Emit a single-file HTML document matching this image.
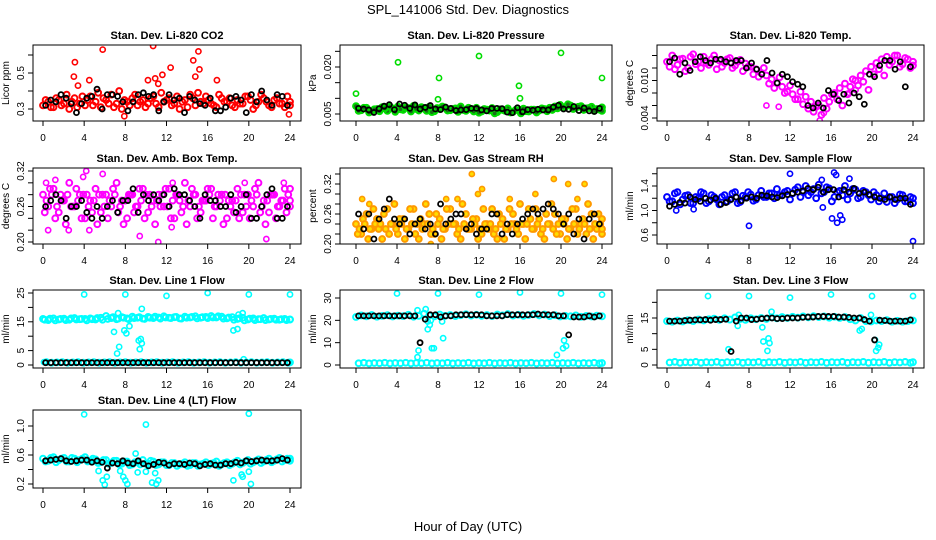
<!DOCTYPE html>
<html><head><meta charset="utf-8"><style>
html,body{margin:0;padding:0;background:#fff;}
svg{display:block;font-family:"Liberation Sans",sans-serif;}
</style></head><body>
<svg id="chart" width="936" height="540" viewBox="0 0 936 540">
<text x="468" y="14" text-anchor="middle" font-size="13">SPL_141006  Std. Dev. Diagnostics</text>
<text x="468" y="531" text-anchor="middle" font-size="13">Hour of Day (UTC)</text>
</svg>
<script>
// ---- data (hours 0-24, values in panel units) ----
const hourTicks = [0,4,8,12,16,20,24];
const co2A = [0.32,0.34,0.31,0.35,0.33,0.30,0.36,0.33,0.32,0.37,0.34,0.31,0.35,0.38,0.33,0.30,0.34,0.36,0.32,0.35,0.33,0.37,0.31,0.34,0.36,0.33,0.30,0.35,0.38,0.32,0.34,0.37,0.33,0.31,0.36,0.34,0.32,0.35,0.33,0.37,0.30,0.34,0.36,0.32,0.35,0.33,0.31,0.34];
const co2B = [0.35,0.31,0.36,0.32,0.38,0.34,0.31,0.37,0.35,0.32,0.39,0.36,0.33,0.31,0.40,0.35,0.32,0.38,0.34,0.31,0.36,0.33,0.39,0.35,0.32,0.37,0.34,0.31,0.36,0.39,0.33,0.35,0.32,0.38,0.34,0.36,0.31,0.33,0.37,0.35,0.32,0.38,0.34,0.31,0.36,0.33,0.37,0.32];
const co2Out = [[3,0.48],[3.1,0.56],[5.8,0.63],[10.7,0.65],[15.1,0.62],[14.6,0.57],[12.4,0.53],[15.2,0.52],[14.8,0.48],[11.6,0.49],[16.9,0.46],[4.5,0.46],[10.2,0.46],[10.9,0.47],[7.9,0.26],[23.9,0.27],[11.2,0.44],[3.4,0.43]];
const co2K = [0.32,0.35,0.34,0.38,0.36,0.33,0.28,0.33,0.36,0.37,0.41,0.30,0.38,0.38,0.37,0.34,0.29,0.34,0.38,0.39,0.37,0.38,0.29,0.34,0.38,0.35,0.36,0.28,0.37,0.35,0.33,0.32,0.36,0.29,0.29,0.31,0.36,0.37,0.35,0.28,0.38,0.34,0.40,0.35,0.32,0.38,0.37,0.32];

const presA = [0.0075,0.0062,0.0070,0.0058,0.0066,0.0072,0.0060,0.0068,0.0074,0.0063,0.0069,0.0076,0.0061,0.0067,0.0073,0.0059,0.0066,0.0071,0.0062,0.0068,0.0074,0.0060,0.0065,0.0070,0.0058,0.0064,0.0069,0.0056,0.0063,0.0068,0.0057,0.0062,0.0067,0.0058,0.0064,0.0061,0.0066,0.0070,0.0074,0.0079,0.0072,0.0077,0.0070,0.0075,0.0068,0.0073,0.0066,0.0071];
const presB = [0.0060,0.0070,0.0055,0.0065,0.0059,0.0068,0.0073,0.0057,0.0065,0.0071,0.0058,0.0066,0.0072,0.0060,0.0056,0.0069,0.0074,0.0061,0.0066,0.0057,0.0063,0.0070,0.0058,0.0054,0.0066,0.0061,0.0052,0.0065,0.0060,0.0055,0.0063,0.0052,0.0059,0.0064,0.0055,0.0068,0.0059,0.0063,0.0068,0.0072,0.0081,0.0066,0.0073,0.0063,0.0069,0.0060,0.0064,0.0060];
const presOut = [[0,0.0115],[4.1,0.0215],[8.1,0.0165],[8,0.0097],[12,0.0235],[15.9,0.0140],[16,0.0100],[20,0.0245],[24,0.0165]];
const presK = [0.0068,0.0066,0.0063,0.0055,0.0067,0.0075,0.0080,0.0064,0.0082,0.0078,0.0068,0.0079,0.0066,0.0071,0.0077,0.0066,0.0064,0.0072,0.0068,0.0061,0.0063,0.0064,0.0068,0.0068,0.0063,0.0060,0.0068,0.0068,0.0067,0.0056,0.0054,0.0070,0.0057,0.0064,0.0062,0.0065,0.0063,0.0063,0.0072,0.0078,0.0066,0.0065,0.0074,0.0061,0.0069,0.0060,0.0058,0.0068];

const tempA = [0.0130,0.0140,0.0125,0.0135,0.0120,0.0142,0.0130,0.0138,0.0125,0.0140,0.0132,0.0128,0.0136,0.0124,0.0133,0.0127,0.0122,0.0118,0.0112,0.0108,0.0102,0.0096,0.0090,0.0082,0.0078,0.0070,0.0062,0.0055,0.0050,0.0060,0.0072,0.0066,0.0080,0.0088,0.0095,0.0090,0.0100,0.0108,0.0115,0.0122,0.0128,0.0134,0.0138,0.0130,0.0140,0.0126,0.0134,0.0130];
const tempB = [0.0122,0.0118,0.0134,0.0115,0.0138,0.0126,0.0120,0.0128,0.0134,0.0118,0.0122,0.0134,0.0120,0.0130,0.0115,0.0122,0.0110,0.0106,0.0120,0.0095,0.0088,0.0105,0.0080,0.0092,0.0070,0.0082,0.0074,0.0066,0.0058,0.0045,0.0055,0.0078,0.0070,0.0060,0.0078,0.0102,0.0092,0.0098,0.0085,0.0110,0.0118,0.0108,0.0125,0.0140,0.0122,0.0136,0.0120,0.0124];
const tempOut = [[9.7,0.0060],[10.9,0.0058],[14.9,0.0036],[17.8,0.0080],[18.4,0.0085],[15.3,0.0048]];
const tempK = [0.0130,0.0136,0.0110,0.0128,0.0116,0.0130,0.0138,0.0132,0.0128,0.0134,0.0134,0.0130,0.0128,0.0132,0.0132,0.0120,0.0128,0.0118,0.0110,0.0132,0.0112,0.0096,0.0110,0.0106,0.0098,0.0094,0.0090,0.0060,0.0056,0.0064,0.0056,0.0084,0.0078,0.0068,0.0078,0.0064,0.0080,0.0074,0.0062,0.0110,0.0106,0.0124,0.0132,0.0132,0.0118,0.0130,0.0090,0.0122];

const boxA = [0.28,0.26,0.29,0.25,0.27,0.30,0.26,0.28,0.24,0.27,0.29,0.25,0.28,0.26,0.30,0.27,0.24,0.28,0.26,0.29,0.25,0.27,0.28,0.26,0.29,0.24,0.27,0.30,0.26,0.28,0.25,0.27,0.29,0.26,0.28,0.24,0.27,0.29,0.25,0.28,0.26,0.30,0.27,0.25,0.28,0.26,0.29,0.27];
const boxB = [0.25,0.29,0.24,0.28,0.23,0.26,0.29,0.24,0.28,0.25,0.23,0.28,0.24,0.29,0.25,0.23,0.28,0.25,0.29,0.24,0.28,0.23,0.26,0.29,0.24,0.28,0.25,0.23,0.29,0.24,0.27,0.29,0.24,0.28,0.23,0.27,0.25,0.24,0.28,0.24,0.29,0.25,0.23,0.28,0.24,0.27,0.25,0.29];
const boxC = [0.27,0.28,0.26,0.27,0.28,0.26,0.27,0.28,0.26,0.27,0.28,0.26,0.27,0.28,0.26,0.27,0.28,0.26,0.27,0.28,0.26,0.27,0.28,0.26,0.27,0.28,0.26,0.27,0.28,0.26,0.27,0.28,0.26,0.27,0.28,0.26,0.27,0.28,0.26,0.27,0.28,0.26,0.27,0.28,0.26,0.27,0.28,0.26];
const boxOut = [[0.3,0.30],[1.2,0.305],[4.2,0.32],[5.8,0.315],[0.5,0.22],[2.5,0.22],[4.5,0.22],[9.4,0.21],[11.2,0.20],[12.5,0.225],[19.1,0.19],[21.7,0.205],[3.9,0.31],[12.6,0.30],[19.6,0.30],[23.4,0.30]];
const boxK = [0.26,0.27,0.28,0.27,0.24,0.26,0.26,0.27,0.25,0.24,0.26,0.24,0.26,0.27,0.25,0.27,0.27,0.29,0.25,0.28,0.27,0.28,0.27,0.28,0.26,0.29,0.28,0.28,0.27,0.26,0.24,0.28,0.27,0.27,0.26,0.26,0.28,0.25,0.26,0.28,0.24,0.24,0.26,0.28,0.29,0.24,0.24,0.26];

const rhA = [0.24,0.22,0.26,0.23,0.25,0.21,0.27,0.24,0.22,0.25,0.23,0.27,0.21,0.24,0.26,0.22,0.25,0.23,0.27,0.24,0.21,0.26,0.23,0.25,0.22,0.24,0.27,0.21,0.25,0.23,0.26,0.22,0.24,0.27,0.23,0.25,0.21,0.24,0.26,0.22,0.25,0.23,0.27,0.24,0.22,0.26,0.23,0.25];
const rhB = [0.22,0.25,0.21,0.27,0.23,0.26,0.22,0.28,0.25,0.21,0.27,0.22,0.25,0.28,0.22,0.26,0.21,0.27,0.24,0.22,0.28,0.23,0.25,0.21,0.27,0.23,0.22,0.26,0.21,0.27,0.24,0.28,0.21,0.25,0.27,0.22,0.26,0.28,0.22,0.25,0.21,0.27,0.22,0.25,0.28,0.21,0.26,0.22];
const rhC = [0.23,0.24,0.23,0.24,0.24,0.23,0.24,0.23,0.24,0.23,0.24,0.24,0.23,0.24,0.23,0.24,0.23,0.24,0.24,0.23,0.24,0.23,0.24,0.23,0.24,0.24,0.23,0.24,0.23,0.24,0.23,0.24,0.24,0.23,0.24,0.23,0.24,0.23,0.24,0.24,0.23,0.24,0.23,0.24,0.23,0.24,0.24,0.23];
const rhOut = [[0.6,0.29],[1.3,0.28],[7.3,0.20],[8.8,0.29],[11.3,0.34],[11.9,0.30],[12.3,0.31],[15,0.29],[19.3,0.33],[20.7,0.32],[22.3,0.32],[21.6,0.29],[9.9,0.29],[17.5,0.30]];
const rhK = [0.26,0.23,0.26,0.21,0.25,0.27,0.29,0.25,0.24,0.25,0.22,0.24,0.25,0.23,0.24,0.22,0.28,0.24,0.25,0.26,0.26,0.23,0.24,0.22,0.23,0.23,0.26,0.26,0.22,0.24,0.22,0.24,0.25,0.26,0.27,0.26,0.27,0.28,0.27,0.26,0.24,0.26,0.22,0.25,0.21,0.25,0.26,0.24];

const flowA = [1.22,1.15,1.30,1.18,1.25,1.12,1.20,1.28,1.15,1.22,1.10,1.25,1.18,1.30,1.14,1.22,1.26,1.18,1.32,1.22,1.28,1.35,1.25,1.32,1.28,1.38,1.30,1.25,1.35,1.42,1.30,1.36,1.22,1.32,1.40,1.28,1.34,1.22,1.30,1.18,1.25,1.20,1.14,1.22,1.18,1.25,1.15,1.20];
const flowB = [1.15,1.28,1.10,1.24,1.12,1.22,1.30,1.12,1.25,1.18,1.22,1.15,1.28,1.12,1.24,1.30,1.16,1.25,1.22,1.28,1.20,1.25,1.30,1.18,1.34,1.22,1.40,1.30,1.20,1.28,1.38,1.15,1.30,1.25,1.18,1.35,1.20,1.32,1.25,1.30,1.15,1.28,1.22,1.12,1.26,1.15,1.22,1.12];
const flowOut = [[12,1.60],[16.3,1.62],[16.5,1.58],[15.1,1.50],[17.8,1.52],[8,0.75],[24,0.50],[16.1,0.87],[16.6,0.80],[16.9,0.92],[17.1,0.85],[15.2,1.05],[0.9,1.0],[2.6,1.02]];
const flowK = [1.07,1.10,1.13,1.12,1.22,1.18,1.15,1.20,1.17,1.20,1.10,1.13,1.18,1.22,1.16,1.20,1.22,1.20,1.25,1.24,1.22,1.21,1.24,1.26,1.28,1.30,1.32,1.36,1.34,1.38,1.30,1.34,1.34,1.22,1.34,1.30,1.36,1.28,1.30,1.26,1.22,1.20,1.18,1.22,1.18,1.20,1.20,1.10];

const l1A = [16,15.6,16.2,15.8,16.1,15.7,16.3,15.9,16.0,16.2,15.8,16.4,17.0,16.3,15.9,16.6,16.2,16.8,16.4,16.1,16.7,16.3,16.5,16.9,16.4,16.6,16.2,16.8,16.5,16.9,16.4,16.7,17.0,16.5,16.8,16.2,16.6,16.0,16.4,15.8,16.2,15.9,16.3,15.8,16.1,15.7,16.0,15.8];
const l1B = [15.7,16.1,15.5,16.0,15.6,16.2,15.8,16.0,15.5,15.9,16.3,15.7,16.0,16.6,16.1,16.4,15.9,16.3,16.6,16.0,16.4,16.8,16.1,16.5,16.3,16.7,16.1,16.4,16.7,16.2,16.6,16.3,16.5,16.9,16.1,16.5,15.7,16.2,15.5,16.1,15.6,15.9,15.6,16.0,15.7,15.9,15.6,15.8];
const l1Low = [1.0,0.8,0.9,1.0,0.8,0.9,1.0,0.8,0.9,1.0,0.8,0.9,1.0,0.8,0.9,1.0,0.8,0.9,1.0,0.8,0.9,1.0,0.8,0.9,1.0,0.8,0.9,1.0,0.8,0.9,1.0,0.8,0.9,1.0,0.8,0.9,1.0,0.8,0.9,1.0,0.8,0.9,1.0,0.8,0.9,1.0,0.8,0.9];
const l1Out = [[4,24.5],[8,24.5],[12,24],[16,25],[20,24.5],[24,24.5],[7.3,18],[6.9,11.5],[7.9,12],[8.1,11],[7.2,4],[7.4,6.3],[9.6,19.5],[9.3,8.5],[9.5,9],[9.6,7.5],[9.4,5.5],[8.4,13.5],[18.5,12],[18.9,12.5],[19.4,18],[19.0,17.5],[19.5,2],[0.1,1.0]];
const l1K = [0.8,0.8,0.8,0.8,0.8,0.8,0.8,0.8,0.8,0.8,0.8,0.8,0.8,0.8,0.8,0.8,0.8,0.8,0.8,0.8,0.8,0.8,0.8,0.8,0.8,0.8,0.8,0.8,0.8,0.8,0.8,0.8,0.8,0.8,0.8,0.8,0.8,0.8,0.8,0.8,0.8,0.8,0.8,0.8,0.8,0.8,0.8,0.8];

const l2A = [21.5,22.2,21.8,22.4,21.6,22.0,22.3,21.7,22.1,21.9,22.5,21.6,22.0,23.0,22.2,21.8,22.6,22.0,22.4,21.9,22.3,22.7,22.1,22.5,22.0,22.4,21.9,22.6,22.2,22.8,22.1,22.5,22.0,22.4,22.8,22.2,22.6,21.9,22.3,21.7,22.0,21.8,22.2,21.6,22.0,21.7,22.1,21.8];
const l2B = [0.8,1.0,0.7,0.9,0.8,1.0,0.7,0.9,0.8,1.0,0.7,0.9,0.8,1.0,0.7,0.9,0.8,1.0,0.7,0.9,0.8,1.0,0.7,0.9,0.8,1.0,0.7,0.9,0.8,1.0,0.7,0.9,0.8,1.0,0.7,0.9,0.8,1.0,0.7,0.9,0.8,1.0,0.7,0.9,0.8,1.0,0.7,0.9];
const l2Out = [[4,32],[8,32],[12,31.5],[16,32.5],[20,32],[24,31.5],[6,3.5],[6.1,6.5],[6.8,25],[7,16],[7.2,18],[7.4,7.5],[7.6,7.5],[8.5,12],[19.6,4.5],[20.2,7.5],[20.3,11],[20.5,8.5],[6,24.5],[7.0,19.5],[8.4,19.5],[7.3,20]];
const l2K = [22,22,22,22,22,22,22,22,22,22,22,22,10,20.5,22.5,22.5,21.5,22,22,22.5,22.5,22.5,22.5,22.5,22.5,22,22,22,22,22.5,22.5,22.5,22.5,22.5,22.5,22.8,22.5,22.5,22.5,22,22,13.5,21.5,21.5,21.5,22,21.5,22];

const l3A = [14,13.8,14.2,13.9,14.3,14.0,14.5,14.2,14.6,14.8,14.4,14.9,14.5,15.2,14.7,14.4,14.9,14.6,15.0,14.7,15.2,14.9,15.3,15.0,15.4,15.1,15.5,15.2,15.6,15.3,15.5,15.1,15.4,15.0,15.3,14.6,14.2,15.0,14.0,13.9,14.2,14.0,14.3,13.8,14.1,13.8,14.0,14.2];
const l3B = [0.8,1.0,0.7,0.9,0.8,1.0,0.7,0.9,0.8,1.0,0.7,0.9,0.8,1.0,0.7,0.9,0.8,1.0,0.7,0.9,0.8,1.0,0.7,0.9,0.8,1.0,0.7,0.9,0.8,1.0,0.7,0.9,0.8,1.0,0.7,0.9,0.8,1.0,0.7,0.9,0.8,1.0,0.7,0.9,0.8,1.0,0.7,0.9];
const l3Out = [[4,22],[8,22],[12,21.5],[16,22.5],[20,22],[24,22],[6,5],[9.4,7.5],[9.8,4.5],[9.9,8.5],[10,7],[9.3,12],[10.2,17],[18.8,11],[19,11.5],[20.3,8],[20.4,4.5],[20.6,5.5],[20.7,6.5],[7,16],[6.9,12.5],[19.9,16]];
const l3K = [14,14,14,14.2,14.3,14.4,14.4,14.5,14.3,14.5,14.5,14.6,4.3,14,15,15,14.5,14.6,14.8,15,15,14.8,14.8,15,15,15,15.2,15.3,15.3,15.5,15.5,15.5,15.5,15.3,15.3,15.2,15,15,14.5,14,8,14.3,14.2,14,14,14,14,14.4];

const l4A = [0.55,0.52,0.57,0.53,0.56,0.51,0.55,0.53,0.57,0.52,0.54,0.50,0.53,0.49,0.52,0.48,0.51,0.47,0.50,0.53,0.48,0.51,0.47,0.50,0.46,0.49,0.47,0.50,0.46,0.49,0.47,0.50,0.48,0.51,0.47,0.50,0.48,0.52,0.49,0.53,0.50,0.54,0.51,0.55,0.52,0.56,0.53,0.55];
const l4B = [0.51,0.56,0.50,0.55,0.51,0.56,0.50,0.55,0.51,0.55,0.49,0.53,0.48,0.52,0.47,0.51,0.46,0.50,0.47,0.48,0.52,0.46,0.50,0.46,0.49,0.45,0.48,0.45,0.49,0.45,0.48,0.46,0.49,0.45,0.49,0.46,0.50,0.47,0.51,0.48,0.52,0.49,0.53,0.50,0.54,0.51,0.55,0.52];
const l4Out = [[4,1.16],[10,1.02],[20,1.17],[5.8,0.25],[6,0.19],[6.2,0.3],[7.5,0.38],[7.8,0.3],[8,0.25],[8.2,0.2],[9,0.62],[9.2,0.36],[10,0.37],[10.6,0.22],[11,0.2],[11.2,0.25],[18.5,0.25],[19.3,0.33],[19.4,0.3],[20,0.37],[20.2,0.2],[5.4,0.38],[10.9,0.35]];
const l4K = [0.52,0.53,0.54,0.55,0.52,0.51,0.52,0.53,0.53,0.50,0.52,0.50,0.42,0.49,0.48,0.52,0.49,0.48,0.52,0.48,0.45,0.47,0.50,0.49,0.46,0.48,0.48,0.47,0.49,0.48,0.45,0.47,0.48,0.46,0.46,0.48,0.48,0.50,0.49,0.52,0.51,0.52,0.53,0.52,0.52,0.53,0.55,0.53];

// ---- panel geometry ----
const NS = "http://www.w3.org/2000/svg";
const svg = document.getElementById('chart');
const colX = [[33,301,43,290],[340,612,356,602],[657,924,667,913]];
const rowY = [[45,121],[168,244],[290,368],[410,488]];
function el(tag, attrs, parent){const e=document.createElementNS(NS,tag);for(const k in attrs)e.setAttribute(k,attrs[k]);(parent||svg).appendChild(e);return e;}

const panels = [
 {name:'co2',title:'Stan. Dev. Li-820 CO2',ylab:'Licor ppm',c:0,r:0,ym:[0.3,109,0.5,73],ticks:[0.3,0.4,0.5,0.6],labels:[0.3,0.5],dec:1,
  series:[[co2A,'#ff0000','none'],[co2B,'#ff0000','none']],outs:[[co2Out,'#ff0000','none']],k:co2K},
 {name:'pressure',title:'Stan. Dev. Li-820 Pressure',ylab:'kPa',c:1,r:0,ym:[0.005,114,0.020,67],ticks:[0.005,0.010,0.015,0.020,0.025],labels:[0.005,0.020],dec:3,
  series:[[presA,'#00dd00','#1a6d1a'],[presB,'#00dd00','#1a6d1a']],outs:[[presOut,'#00dd00','none']],k:presK},
 {name:'temp',title:'Stan. Dev. Li-820 Temp.',ylab:'degrees C',c:2,r:0,ym:[0.004,118,0.010,80.5],ticks:[0.004,0.006,0.008,0.010,0.012,0.014],labels:[0.004,0.010],dec:3,
  series:[[tempA,'#ff00ff','none'],[tempB,'#ff00ff','none']],outs:[[tempOut,'#ff00ff','none']],k:tempK},
 {name:'box-temp',title:'Stan. Dev. Amb. Box Temp.',ylab:'degrees C',c:0,r:1,ym:[0.20,242,0.32,171],ticks:[0.20,0.22,0.24,0.26,0.28,0.30,0.32],labels:[0.20,0.26,0.32],dec:2,
  series:[[boxA,'#ff00ff','none'],[boxB,'#ff00ff','none'],[boxC,'#ff00ff','none']],outs:[[boxOut,'#ff00ff','none']],k:boxK},
 {name:'rh',title:'Stan. Dev. Gas Stream RH',ylab:'percent',c:1,r:1,ym:[0.20,244,0.32,184],ticks:[0.20,0.22,0.24,0.26,0.28,0.30,0.32,0.34],labels:[0.20,0.26,0.32],dec:2,
  series:[[rhA,'#ff9900','#ffdd00'],[rhB,'#ff9900','#ffdd00'],[rhC,'#ff9900','#ffdd00']],outs:[[rhOut,'#ff9900','#ffdd00']],k:rhK},
 {name:'sample-flow',title:'Stan. Dev. Sample Flow',ylab:'ml/min',c:2,r:1,ym:[0.6,235,1.4,186],ticks:[0.6,0.8,1.0,1.2,1.4,1.6],labels:[0.6,1.0,1.4],dec:1,
  series:[[flowA,'#0000ff','none'],[flowB,'#0000ff','none']],outs:[[flowOut,'#0000ff','none']],k:flowK},
 {name:'line1-flow',title:'Stan. Dev. Line 1 Flow',ylab:'ml/min',c:0,r:2,ym:[0,365,25,293],ticks:[0,5,10,15,20,25],labels:[0,5,15,25],dec:0,
  series:[[l1A,'#00ffff','none'],[l1B,'#00ffff','none'],[l1Low,'#00ffff','none']],outs:[[l1Out,'#00ffff','none']],k:l1K},
 {name:'line2-flow',title:'Stan. Dev. Line 2 Flow',ylab:'ml/min',c:1,r:2,ym:[0,365,30,298],ticks:[0,10,20,30],labels:[0,10,20,30],dec:0,
  series:[[l2A,'#00ffff','none'],[l2B,'#00ffff','none']],outs:[[l2Out,'#00ffff','none']],k:l2K},
 {name:'line3-flow',title:'Stan. Dev. Line 3 Flow',ylab:'ml/min',c:2,r:2,ym:[0,365,15,318],ticks:[0,5,10,15,20],labels:[0,5,15],dec:0,
  series:[[l3A,'#00ffff','none'],[l3B,'#00ffff','none']],outs:[[l3Out,'#00ffff','none']],k:l3K},
 {name:'line4-flow',title:'Stan. Dev. Line 4 (LT) Flow',ylab:'ml/min',c:0,r:3,ym:[0.2,484,1.0,426],ticks:[0.2,0.4,0.6,0.8,1.0],labels:[0.2,0.6,1.0],dec:1,
  series:[[l4A,'#00ffff','none'],[l4B,'#00ffff','none']],outs:[[l4Out,'#00ffff','none']],k:l4K}
];

panels.forEach(p=>{
  const [bx0,bx1,tx0,tx1]=colX[p.c]; const [by0,by1]=rowY[p.r];
  const xs=h=>tx0+(tx1-tx0)*h/24;
  const ys=v=>p.ym[1]+(v-p.ym[0])*(p.ym[3]-p.ym[1])/(p.ym[2]-p.ym[0]);
  const g=el('g',{});
  
  
  const clipId='clip-'+p.name;
  const cp=el('clipPath',{id:clipId},g); el('rect',{x:bx0,y:by0,width:bx1-bx0,height:by1-by0},cp);
  const t=el('text',{x:(bx0+bx1)/2,y:by0-6,'text-anchor':'middle','font-size':'11','font-weight':'bold'},g);
  t.textContent=p.title;
  
  
  const pts=el('g',{'clip-path':'url(#'+clipId+')'},g);
  
  
  const ns=p.series.length;
  p.series.forEach(([vals,col,fill],si)=>{
    const n=vals.length; const step=24/(n-1);
    vals.forEach((v,i)=>{
      const h=Math.min(24,i*step+step*si/ns);
      const c=el('circle',{cx:xs(h),cy:ys(v),r:2.9,fill:fill,stroke:col,'stroke-width':2},pts);
      
      
    });
  });
  p.outs.forEach(([pairs,col,fill])=>{
    pairs.forEach(([h,v])=>{
      const c=el('circle',{cx:xs(h),cy:ys(v),r:2.6,fill:fill,stroke:col,'stroke-width':1.6},pts);
      
      
    });
  });
  const nk=p.k.length;
  p.k.forEach((v,i)=>{
    const c=el('circle',{cx:xs((i+0.5)*24/nk),cy:ys(v),r:2.5,fill:'none',stroke:'#000','stroke-width':1.8},pts);
    
    
  });
  const frame=el('rect',{x:bx0,y:by0,width:bx1-bx0,height:by1-by0,fill:'none',stroke:'#000','stroke-width':1},g);
  
  
  hourTicks.forEach(h=>{
    el('line',{x1:xs(h),x2:xs(h),y1:by1,y2:by1+5,stroke:'#000'},g);
    const tl=el('text',{x:xs(h),y:by1+20,'text-anchor':'middle','font-size':'10'},g);
    tl.textContent=h;
    
    
  });
  p.ticks.forEach(v=>{
    const y=ys(v); if(y<by0-1||y>by1+1) return;
    el('line',{x1:bx0,x2:bx0-5,y1:y,y2:y,stroke:'#000'},g);
  });
  p.labels.forEach(v=>{
    const y=ys(v); const x=bx0-9;
    const tl=el('text',{x:x,y:y,'text-anchor':'middle','font-size':'10',transform:`rotate(-90 ${x} ${y})`},g);
    tl.textContent=v.toFixed(p.dec);
    
    
  });
  const lx=bx0-24, ly=(by0+by1)/2;
  const yl=el('text',{x:lx,y:ly,'text-anchor':'middle','font-size':'10',transform:`rotate(-90 ${lx} ${ly})`},g);
  yl.textContent=p.ylab;
  
  
});
</script>
</body></html>
